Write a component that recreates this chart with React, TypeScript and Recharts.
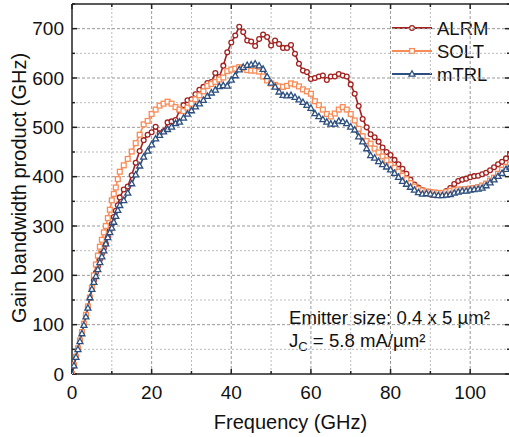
import { LineChart, Line, XAxis, YAxis, ReferenceLine, Customized } from "recharts";

// frequency points (GHz) – finer steps at low frequency
const freq = [
  0, 0.5, 1, 1.5, 2, 2.5, 3, 3.5, 4, 4.5,
  5, 5.5, 6, 6.5, 7, 7.5, 8, 8.5, 9, 9.5,
  10, 10.5, 11, 11.5, 12,
  13, 14, 15, 16, 17, 18, 19, 20, 21, 22,
  23, 24, 25, 26, 27, 28, 29, 30, 31, 32,
  33, 34, 35, 36, 37, 38, 39, 40, 41, 42,
  43, 44, 45, 46, 47, 48, 49, 50, 51, 52,
  53, 54, 55, 56, 57, 58, 59, 60, 61, 62,
  63, 64, 65, 66, 67, 68, 69, 70, 71, 72,
  73, 74, 75, 76, 77, 78, 79, 80, 81, 82,
  83, 84, 85, 86, 87, 88, 89, 90, 91, 92,
  93, 94, 95, 96, 97, 98, 99, 100, 101, 102,
  103, 104, 105, 106, 107, 108, 109, 110,
];

const alrm = [
  0, 17, 34, 51, 67, 84, 101, 118, 136, 154,
  172, 190, 205, 218, 232, 244, 255, 264, 278, 292,
  304, 318, 331, 342, 358,
  374, 380, 403, 428, 452, 474, 485, 490, 501, 488,
  492, 510, 512, 515, 534, 545, 555, 557, 567, 576,
  582, 590, 592, 610, 602, 625, 652, 672, 686, 704,
  693, 676, 674, 665, 679, 688, 683, 666, 676, 669,
  661, 661, 667, 649, 629, 615, 612, 598, 600, 603,
  605, 596, 603, 603, 608, 605, 603, 587, 568, 543,
  517, 500, 486, 480, 471, 459, 450, 444, 434, 425,
  416, 406, 394, 384, 378, 373, 369, 364, 363, 364,
  367, 371, 377, 385, 391, 394, 396, 399, 401, 402,
  405, 408, 413, 419, 425, 430, 437, 445,
];

const solt = [
  0, 18, 35, 52, 68, 85, 102, 120, 137, 155,
  175, 200, 222, 240, 258, 272, 287, 300, 316, 333,
  352, 365, 378, 395, 410,
  423, 436, 451, 468, 485, 506, 513, 527, 536, 544,
  548, 552, 548, 541, 536, 533, 540, 548, 557, 565,
  573, 584, 588, 592, 597, 601, 614, 617, 619, 622,
  620, 616, 615, 615, 613, 603, 595, 589, 586, 583,
  582, 584, 589, 587, 583, 577, 573, 568, 553, 545,
  536, 527, 522, 528, 536, 541, 536, 527, 514, 497,
  482, 472, 467, 457, 449, 441, 433, 424, 418, 410,
  402, 395, 387, 380, 375, 372, 370, 369, 368, 367,
  367, 369, 371, 373, 374, 374, 375, 376, 377, 379,
  382, 386, 392, 398, 406, 414, 420, 425,
];

const mtrl = [
  0, 17, 34, 50, 66, 82, 99, 116, 134, 155,
  172, 186, 198, 212, 226, 238, 250, 264, 277, 287,
  296, 308, 320, 332, 342,
  352, 367, 386, 404, 422, 440, 452, 465, 477, 484,
  491, 496, 501, 508, 511, 519, 527, 534, 542, 548,
  555, 563, 570, 576, 583, 585, 584, 596, 605, 617,
  622, 626, 627, 629, 625, 618, 603, 590, 582, 572,
  565, 564, 565, 561, 556, 551, 545, 539, 528, 522,
  516, 511, 507, 507, 513, 512, 508, 501, 495, 481,
  471, 457, 443, 438, 431, 425, 420, 414, 407, 399,
  391, 385, 379, 373, 368, 365, 366, 365, 363, 362,
  362, 363, 364, 367, 369, 371, 371, 373, 374, 375,
  377, 382, 388, 394, 401, 407, 415, 420,
];

const xTicks = [0, 20, 40, 60, 80, 100];
const xMinor = [10, 30, 50, 70, 90, 110];
const yTicks = [0, 100, 200, 300, 400, 500, 600, 700];
const yMinor = [50, 150, 250, 350, 450, 550, 650, 750];

const data = freq.map((f, i) => ({
  f,
  alrm: alrm[i],
  solt: solt[i],
  mtrl: mtrl[i],
}));

const FONT = "'Liberation Sans', Arial, sans-serif";
const RED = "#a2221f";
const ORANGE = "#f98b56";
const BLUE = "#2c4f7f";
const AXIS = "#222";

const circle = (c: string, x: number, y: number, k?: string) => (
  <circle key={k} cx={x} cy={y} r={2.4} fill="#fff" stroke={c} strokeWidth={1.3} />
);
const square = (c: string, x: number, y: number, k?: string) => (
  <rect key={k} x={x - 2.4} y={y - 2.4} width={4.8} height={4.8} fill="#fff" stroke={c} strokeWidth={1.3} />
);
const triangle = (c: string, x: number, y: number, k?: string) => (
  <polygon
    key={k}
    points={`${x},${y - 3.2} ${x + 3},${y + 2.2} ${x - 3},${y + 2.2}`}
    fill="#fff"
    stroke={c}
    strokeWidth={1.3}
  />
);

const makeDot =
  (shape: typeof circle, c: string, name: string) => (props: any) => {
    const { cx, cy, index } = props;
    if (cx == null || cy == null) return <g key={`${name}${index}`} />;
    return shape(c, cx, cy, `${name}${index}`);
  };

// ~px -> data units for tick marks
const XU = 110 / 438;
const YU = 750 / 370;

function Overlay() {
  const legend = [
    { label: "ALRM", c: RED, shape: circle, y: 28 },
    { label: "SOLT", c: ORANGE, shape: square, y: 51 },
    { label: "mTRL", c: BLUE, shape: triangle, y: 74 },
  ];
  return (
    <g fontFamily={FONT}>
      {legend.map((l) => (
        <g key={l.label}>
          <line x1={392} x2={432} y1={l.y} y2={l.y} stroke={l.c} strokeWidth={2} />
          {l.shape(l.c, 412, l.y)}
          <text x={437} y={l.y + 6.5} fontSize={18.5} fill="#111">
            {l.label}
          </text>
        </g>
      ))}
      <text x={289} y={323.5} fontSize={18.6} fill="#111">
        Emitter size: 0.4 x 5 µm²
      </text>
      <text x={289} y={347} fontSize={18.6} fill="#111">
        J
        <tspan fontSize={13} dy={4}>C</tspan>
        <tspan dy={-4}> = 5.8 mA/µm²</tspan>
      </text>
      <text x={290.5} y={429} fontSize={20} textAnchor="middle" fill="#111">
        Frequency (GHz)
      </text>
      <text
        transform="translate(25.5,188) rotate(-90)"
        fontSize={20}
        textAnchor="middle"
        fill="#111"
      >
        Gain bandwidth product (GHz)
      </text>
    </g>
  );
}

export default function App() {
  return (
    <div
      style={{
        position: "absolute",
        left: 0,
        top: 0,
        width: 509,
        height: 437,
        overflow: "hidden",
        background: "#fff",
      }}
    >
      <LineChart
        width={511}
        height={437}
        data={data}
        margin={{ top: 4, right: 1, bottom: 0, left: 0 }}
      >
        <XAxis
          dataKey="f"
          type="number"
          domain={[0, 110]}
          ticks={xTicks}
          height={63}
          tickLine={false}
          tickMargin={6}
          axisLine={{ stroke: AXIS, strokeWidth: 1.5 }}
          tick={{ fill: "#111", fontSize: 19, fontFamily: FONT }}
          allowDataOverflow
        />
        <YAxis
          type="number"
          domain={[0, 750]}
          ticks={yTicks}
          width={72}
          tickLine={false}
          axisLine={{ stroke: AXIS, strokeWidth: 1.5 }}
          tick={{ fill: "#111", fontSize: 19, fontFamily: FONT }}
          allowDataOverflow
        />

        {/* grid */}
        {xMinor.slice(0, 5).map((v) => (
          <ReferenceLine key={`gx${v}`} x={v} stroke="#bbb" strokeDasharray="2 2" />
        ))}
        {xTicks.slice(1).map((v) => (
          <ReferenceLine key={`gX${v}`} x={v} stroke="#999" strokeDasharray="3 2" />
        ))}
        {yMinor.slice(0, 7).map((v) => (
          <ReferenceLine key={`gy${v}`} y={v} stroke="#bbb" strokeDasharray="2 2" />
        ))}
        {yTicks.slice(1).map((v) => (
          <ReferenceLine key={`gY${v}`} y={v} stroke="#999" strokeDasharray="3 2" />
        ))}

        <Line
          dataKey="alrm"
          type="linear"
          stroke={RED}
          strokeWidth={1.6}
          dot={makeDot(circle, RED, "a")}
          activeDot={false}
          isAnimationActive={false}
        />
        <Line
          dataKey="solt"
          type="linear"
          stroke={ORANGE}
          strokeWidth={1.6}
          dot={makeDot(square, ORANGE, "s")}
          activeDot={false}
          isAnimationActive={false}
        />
        <Line
          dataKey="mtrl"
          type="linear"
          stroke={BLUE}
          strokeWidth={1.6}
          dot={makeDot(triangle, BLUE, "m")}
          activeDot={false}
          isAnimationActive={false}
        />

        {/* frame top/right */}
        <ReferenceLine y={750} stroke={AXIS} strokeWidth={1.5} />
        <ReferenceLine x={110} stroke={AXIS} strokeWidth={1.5} />

        {/* inward ticks */}
        {[...xTicks, ...xMinor].map((v) => {
          const len = xTicks.includes(v) ? 5 * YU : 3 * YU;
          return [
            <ReferenceLine key={`tb${v}`} segment={[{ x: v, y: 0 }, { x: v, y: len }]} stroke={AXIS} strokeWidth={1.5} ifOverflow="visible" />,
            <ReferenceLine key={`tt${v}`} segment={[{ x: v, y: 750 }, { x: v, y: 750 - len }]} stroke={AXIS} strokeWidth={1.5} ifOverflow="visible" />,
          ];
        })}
        {[...yTicks, ...yMinor].map((v) => {
          const len = yTicks.includes(v) ? 5 * XU : 3 * XU;
          return [
            <ReferenceLine key={`tl${v}`} segment={[{ x: 0, y: v }, { x: len, y: v }]} stroke={AXIS} strokeWidth={1.5} ifOverflow="visible" />,
            <ReferenceLine key={`tr${v}`} segment={[{ x: 110, y: v }, { x: 110 - len, y: v }]} stroke={AXIS} strokeWidth={1.5} ifOverflow="visible" />,
          ];
        })}

        <Customized component={Overlay} />
      </LineChart>
    </div>
  );
}
